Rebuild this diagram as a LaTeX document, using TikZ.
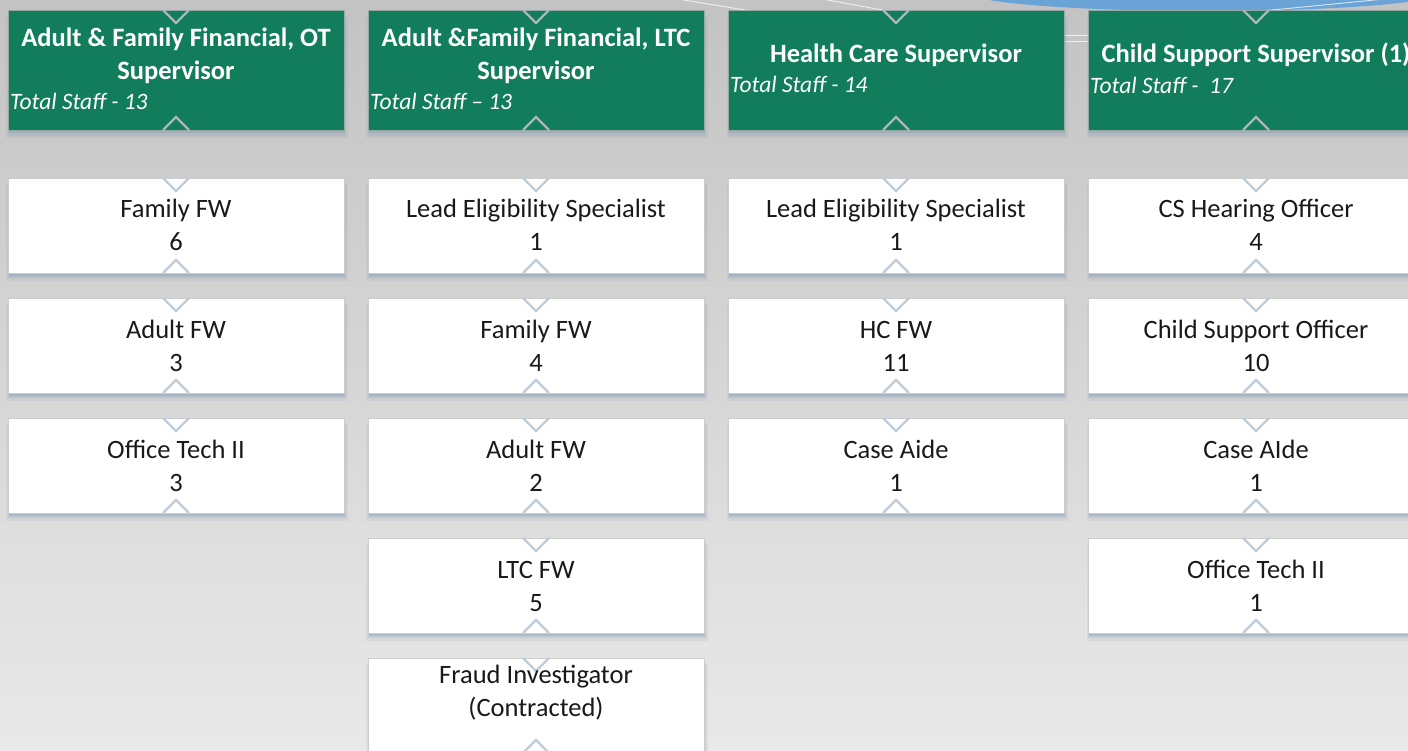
\documentclass[tikz,border=0pt]{standalone}
\usepackage{fontspec}
\setmainfont{Carlito}
\usetikzlibrary{calc,shadows}
\definecolor{hdr}{RGB}{18,125,90}
\definecolor{hborder}{RGB}{150,170,165}
\definecolor{wborder}{RGB}{205,205,205}
\definecolor{shc}{RGB}{120,145,175}
\definecolor{chevwc}{RGB}{190,204,216}
\definecolor{chevhc}{RGB}{170,182,188}
\definecolor{bgtop}{RGB}{195,195,195}
\definecolor{bgbot}{RGB}{233,233,233}
\definecolor{blueell}{RGB}{106,163,213}
\tikzset{
  boxbase/.style={rectangle, minimum width=336pt, inner sep=0pt, outer sep=0pt, line width=0.8pt,
    general shadow={fill=shc, opacity=.12, shadow yshift=-7pt, shadow xshift=1pt, shadow scale=1.015},
    general shadow={fill=shc, opacity=.18, shadow yshift=-5pt, shadow xshift=1pt, shadow scale=1.008},
    general shadow={fill=shc, opacity=.28, shadow yshift=-3pt, shadow xshift=1pt}},
  wbox/.style={boxbase, minimum height=95pt, fill=white, draw=wborder},
  hbox/.style={boxbase, minimum height=120pt, fill=hdr, draw=hborder},
  chevw/.style={draw=chevwc, line width=2.2pt},
  chevh/.style={draw=chevhc, line width=2.2pt},
  btxt/.style={anchor=base, font=\fontsize{26.5}{30}\selectfont, text=black!90, inner sep=0pt},
  htxt/.style={anchor=base, font=\fontsize{26.5}{30}\selectfont\bfseries, text=white, inner sep=0pt},
  itxt/.style={anchor=base west, font=\fontsize{23.5}{28}\selectfont\itshape, text=white, inner sep=0pt},
  conn/.style={draw=white, line width=0.9pt, opacity=0.75}
}
% white box: name, cx, top, line1, line2, offset1, offset2
\newcommand\wbx[7]{%
  \node[wbox] (#1) at (#2,#3+47.5) {};
  \draw[chevw] ($(#1.north)+(-13,0)$) -- ++(13,13) -- ++(13,-13);
  \draw[chevw] ($(#1.south)+(-13,0)$) -- ++(13,-13) -- ++(13,13);
  \node[btxt] (#1-a) at ($(#1.north)+(0,#6)$) {#4};
  \node[btxt] (#1-b) at ($(#1.north)+(0,#7)$) {#5};
}
% header box: name, cx
\newcommand\hbx[2]{%
  \node[hbox] (#1) at (#2,70) {};
  \draw[chevh] ($(#1.north)+(-13,0)$) -- ++(13,13) -- ++(13,-13);
  \draw[chevh] ($(#1.south)+(-13,0)$) -- ++(13,-13) -- ++(13,13);
}
\begin{document}
\begin{tikzpicture}[x=1pt,y=-1pt]
\useasboundingbox (0,0) rectangle (1408,751);
\clip (0,0) rectangle (1408,751);
\shade[top color=bgtop, bottom color=bgbot] (0,0) rectangle (1408,751);
% parent shape
\fill[blueell] (1205,-7.5) ellipse [x radius=236pt, y radius=18.5pt];
% faint connectors behind the headers
\coordinate (c1a) at (678,-1);  \coordinate (c1b) at (745,10);
\coordinate (c2a) at (822,-1);  \coordinate (c2b) at (888,11);
\coordinate (c3a) at (1385,-1); \coordinate (c3b) at (1262,11);
\coordinate (c4a) at (1060,35); \coordinate (c4b) at (1092,35);
\coordinate (c5a) at (1060,41); \coordinate (c5b) at (1092,41);
\draw[conn] (c1a) -- (c1b);
\draw[conn] (c2a) -- (c2b);
\draw[conn] (c3a) -- (c3b);
\draw[conn] (c4a) -- (c4b);
\draw[conn] (c5a) -- (c5b);
% headers
\hbx{h1}{176}
\hbx{h2}{536}
\hbx{h3}{896}
\hbx{h4}{1256}
\node[htxt] (h1-a) at (176,47) {Adult \& Family Financial, OT};
\node[htxt] (h1-b) at (176,80) {Supervisor};
\node[itxt] (h1-c) at (10,110) {Total Staff - 13};
\node[htxt] (h2-a) at (536,47) {Adult \&Family Financial, LTC};
\node[htxt] (h2-b) at (536,80) {Supervisor};
\node[itxt] (h2-c) at (370,110) {Total Staff -- 13};
\node[htxt] (h3-a) at (896,63) {Health Care Supervisor};
\node[itxt] (h3-c) at (730,93) {Total Staff - 14};
\node[htxt] (h4-a) at (1256,63) {Child Support Supervisor (1)};
\node[itxt] (h4-c) at (1090,94) {Total Staff - \ 17};
% column 1
\wbx{a1}{176}{178}{Family FW}{6}{40}{73}
\wbx{a2}{176}{298}{Adult FW}{3}{40}{73}
\wbx{a3}{176}{418}{Office Tech II}{3}{40}{73}
% column 2
\wbx{b1}{536}{178}{Lead Eligibility Specialist}{1}{40}{73}
\wbx{b2}{536}{298}{Family FW}{4}{40}{73}
\wbx{b3}{536}{418}{Adult FW}{2}{40}{73}
\wbx{b4}{536}{538}{LTC FW}{5}{40}{73}
\wbx{b5}{536}{658}{Fraud Investigator}{(Contracted)}{25}{58}
% column 3
\wbx{c1}{896}{178}{Lead Eligibility Specialist}{1}{40}{73}
\wbx{c2}{896}{298}{HC FW}{11}{40}{73}
\wbx{c3}{896}{418}{Case Aide}{1}{40}{73}
% column 4
\wbx{d1}{1256}{178}{CS Hearing Officer}{4}{40}{73}
\wbx{d2}{1256}{298}{Child Support Officer}{10}{40}{73}
\wbx{d3}{1256}{418}{Case AIde}{1}{40}{73}
\wbx{d4}{1256}{538}{Office Tech II}{1}{40}{73}
\end{tikzpicture}
\end{document}
